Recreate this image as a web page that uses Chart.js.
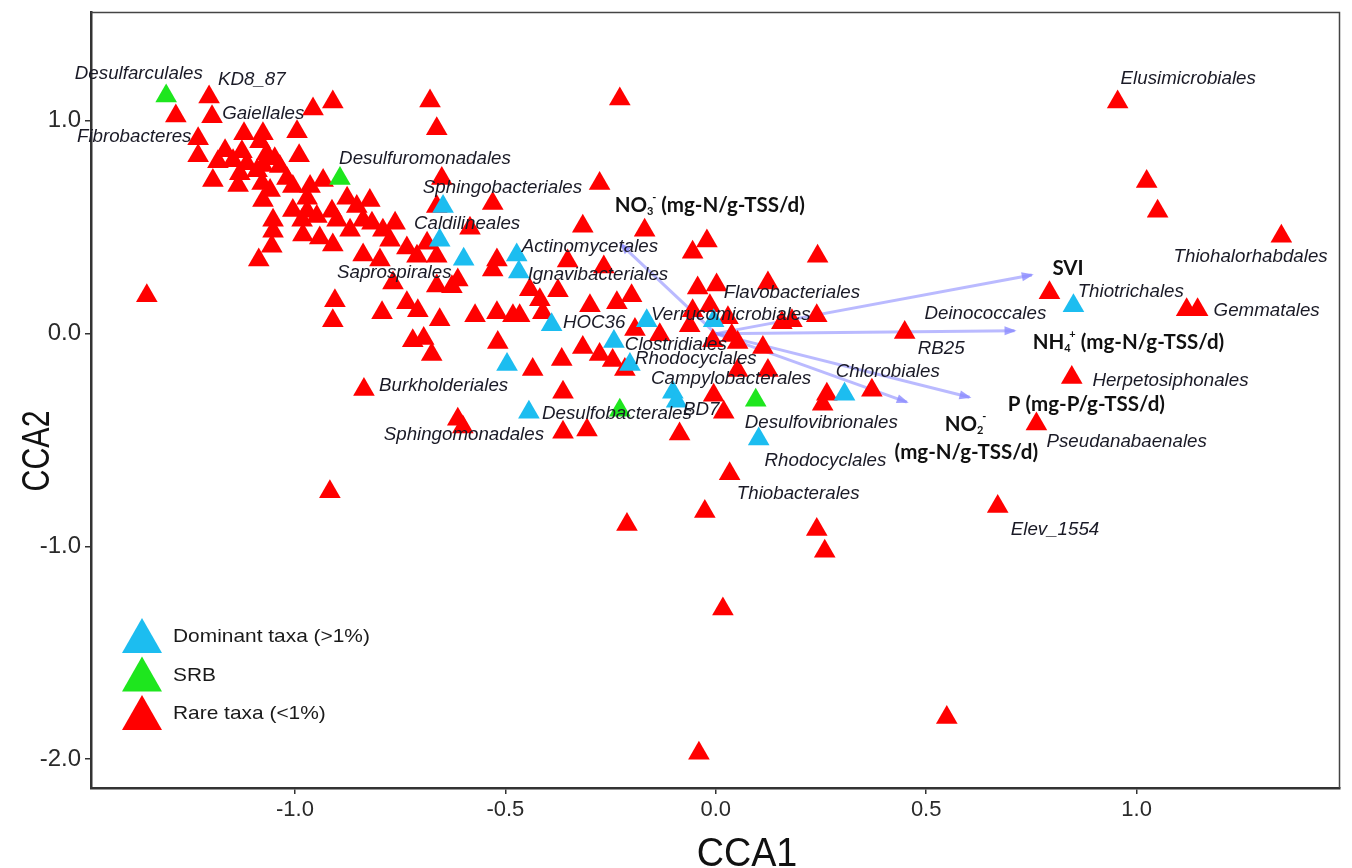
<!DOCTYPE html>
<html>
<head>
<meta charset="utf-8">
<script src="https://cdn.jsdelivr.net/npm/chart.js@4/dist/chart.umd.min.js"></script>
<style>
  html, body { margin: 0; padding: 0; background: #fff; }
</style>
</head>
<body>
<canvas id="ccaChart" width="1352" height="868"></canvas>
<script>
//------------------------------ values ------------------------------

const xTicks = [-1.0, -0.5, 0.0, 0.5, 1.0];
const yTicks = [1.0, 0.0, -1.0, -2.0];

// Dominant taxa (>1%)
const dominantTaxa = [
  [-0.648,0.598],[-0.656,0.439],[-0.599,0.350],[-0.473,0.369],[-0.468,0.290],[-0.390,0.042],
  [-0.496,-0.145],[-0.444,-0.369],[-0.242,-0.037],[-0.164,0.061],[-0.204,-0.145],[-0.102,-0.276],
  [-0.093,-0.318],[-0.005,0.061],[0.306,-0.285],[0.102,-0.495],[0.850,0.131]
];

// SRB
const srbTaxa = [
  [-1.306,1.117],[-0.893,0.729],[-0.228,-0.360],[0.095,-0.313]
];

// Rare taxa (<1%)
const rareTaxa = [
  [-1.283,1.023],[-1.204,1.112],[-1.197,1.019],[-1.230,0.916],[-1.230,0.836],[-1.121,0.939],
  [-1.076,0.939],[-0.957,1.056],[-0.910,1.089],[-0.995,0.949],[-0.990,0.836],[-0.679,1.093],
  [-0.663,0.963],[-1.166,0.860],[-1.183,0.808],[-1.147,0.813],[-1.126,0.855],[-1.114,0.799],
  [-1.131,0.752],[-1.195,0.720],[-1.135,0.696],[-1.083,0.902],[-1.067,0.846],[-1.076,0.790],
  [-1.048,0.822],[-1.036,0.785],[-1.090,0.766],[-1.078,0.706],[-1.059,0.673],[-1.076,0.626],
  [-1.019,0.729],[-1.005,0.692],[-1.005,0.579],[-1.052,0.533],[-1.052,0.481],[-1.055,0.411],
  [-1.086,0.346],[-0.983,0.533],[-0.971,0.575],[-0.964,0.692],[-0.933,0.720],[-0.971,0.636],
  [-0.948,0.551],[-0.981,0.463],[-0.941,0.449],[-0.910,0.416],[-0.912,0.575],[-0.900,0.533],
  [-0.876,0.636],[-0.853,0.598],[-0.822,0.626],[-0.838,0.533],[-0.817,0.519],[-0.869,0.486],
  [-0.838,0.369],[-0.798,0.346],[-0.791,0.486],[-0.762,0.519],[-0.774,0.439],[-0.734,0.402],
  [-0.710,0.364],[-0.686,0.425],[-0.663,0.364],[-0.651,0.729],[-0.663,0.598],[-0.584,0.495],
  [-0.767,0.238],[-0.734,0.145],[-0.708,0.107],[-0.663,0.224],[-0.656,0.065],[-0.613,0.252],
  [-0.627,0.220],[-0.905,0.154],[-0.910,0.061],[-0.793,0.098],[-0.720,-0.033],[-0.694,-0.023],
  [-0.675,-0.098],[-0.572,0.084],[-1.352,0.178],[-0.530,0.612],[-0.276,0.706],[-0.316,0.505],
  [-0.520,0.346],[-0.530,0.299],[-0.352,0.341],[-0.266,0.313],[-0.520,0.098],[-0.482,0.084],
  [-0.442,0.206],[-0.418,0.159],[-0.375,0.201],[-0.411,0.098],[-0.299,0.131],[-0.235,0.145],
  [-0.200,0.178],[-0.518,-0.042],[-0.435,-0.168],[-0.366,-0.121],[-0.316,-0.065],[-0.276,-0.098],
  [-0.466,0.084],[-0.245,-0.126],[-0.216,-0.168],[-0.169,0.486],[-0.055,0.383],[-0.021,0.435],
  [0.242,0.364],[-0.043,0.215],[0.002,0.229],[0.124,0.238],[-0.055,0.107],[-0.014,0.131],
  [0.029,0.075],[0.157,0.051],[0.181,0.061],[0.240,0.084],[0.449,0.005],[-0.192,0.019],
  [-0.133,-0.005],[-0.062,0.037],[-0.007,-0.033],[0.038,-0.009],[0.052,-0.042],[0.112,-0.065],
  [0.052,-0.173],[0.124,-0.173],[-0.005,-0.290],[0.019,-0.369],[-0.086,-0.472],[0.264,-0.285],
  [0.254,-0.332],[0.371,-0.266],[0.033,-0.659],[-0.306,-0.453],[-0.363,-0.463],[-0.836,-0.262],
  [-0.363,-0.276],[-0.613,-0.402],[-0.601,-0.439],[-0.917,-0.743],[-0.211,-0.897],[-0.026,-0.836],
  [0.240,-0.921],[0.259,-1.023],[0.670,-0.813],[0.017,-1.294],[0.549,-1.804],[-0.040,-1.972],
  [0.762,-0.425],[0.955,1.089],[1.024,0.715],[1.050,0.575],[1.344,0.458],[0.793,0.192],
  [1.119,0.112],[1.145,0.112],[0.846,-0.206],[-0.228,1.103]
];

// environmental vectors (arrow tips, from the origin)
const envNames = ['SVI', 'NH4+', 'P', 'NO2-', 'NO3-'];
const envX = [0.751, 0.710, 0.603, 0.454, -0.226];
const envY = [0.276, 0.014, -0.299, -0.322, 0.421];

// taxon names: text, x, y (left end, middle of text)
const taxaLabels = [
  ['Desulfarculales', -1.523, 1.220],
  ['KD8_87', -1.183, 1.192],
  ['Gaiellales', -1.173, 1.033],
  ['Fibrobacteres', -1.518, 0.925],
  ['Desulfuromonadales', -0.895, 0.818],
  ['Sphingobacteriales', -0.696, 0.682],
  ['Caldilineales', -0.717, 0.514],
  ['Actinomycetales', -0.461, 0.407],
  ['Ignavibacteriales', -0.447, 0.276],
  ['Saprospirales', -0.900, 0.285],
  ['Flavobacteriales', 0.019, 0.192],
  ['Verrucomicrobiales', -0.154, 0.089],
  ['HOC36', -0.363, 0.051],
  ['Clostridiales', -0.216, -0.056],
  ['Rhodocyclales', -0.192, -0.121],
  ['Campylobacterales', -0.154, -0.215],
  ['Chlorobiales', 0.285, -0.182],
  ['Burkholderiales', -0.800, -0.248],
  ['BD7', -0.078, -0.360],
  ['Desulfobacterales', -0.413, -0.379],
  ['Desulfovibrionales', 0.069, -0.421],
  ['Sphingomonadales', -0.789, -0.477],
  ['Rhodocyclales', 0.116, -0.598],
  ['Thiobacterales', 0.050, -0.752],
  ['Elev_1554', 0.701, -0.925],
  ['Elusimicrobiales', 0.962, 1.196],
  ['Thiohalorhabdales', 1.088, 0.360],
  ['Thiotrichales', 0.860, 0.196],
  ['Gemmatales', 1.183, 0.107],
  ['Deinococcales', 0.496, 0.093],
  ['RB25', 0.480, -0.075],
  ['Herpetosiphonales', 0.895, -0.224],
  ['Pseudanabaenales', 0.786, -0.509]
];

// environmental labels: pieces (n = normal, sub, sup), x, y
const envLabels = [
  [[['NO','n'],['3','sub'],['-','sup'],[' (mg-N/g-TSS/d)','n']], -0.240, 0.603],
  [[['SVI','n']], 0.800, 0.308],
  [[['NH','n'],['4','sub'],['+','sup'],[' (mg-N/g-TSS/d)','n']], 0.753, -0.042],
  [[['P (mg-P/g-TSS/d)','n']], 0.694, -0.332],
  [[['NO','n'],['2','sub'],['-','sup']], 0.544, -0.425],
  [[['(mg-N/g-TSS/d)','n']], 0.425, -0.556]
];

const legendItems = ['Dominant taxa (>1%)', 'SRB', 'Rare taxa (<1%)'];

//------------------------------ styles ------------------------------

const CYAN = '#1cbdf0';
const GREEN = '#1ee61e';
const RED = '#ff0000';
const ARROW = 'rgba(140,140,255,0.6)';

const toPts = arr => arr.map(p => ({x: p[0], y: p[1]}));

function pointSet(label, arr, color, order) {
  return {
    label: label,
    data: toPts(arr),
    backgroundColor: color,
    borderColor: color,
    pointStyle: 'triangle',
    pointRadius: 12.5,
    pointBorderWidth: 0,
    order: order
  };
}

const arrowSets = envNames.map((n, i) => ({
  label: n,
  data: [{x: 0, y: 0}, {x: envX[i], y: envY[i]}],
  showLine: true,
  borderColor: ARROW,
  borderWidth: 3,
  pointRadius: 0,
  isArrow: true,
  order: 10
}));

function drawTri(ctx, cx, top, w, h, color) {
  ctx.beginPath();
  ctx.moveTo(cx, top);
  ctx.lineTo(cx + w / 2, top + h);
  ctx.lineTo(cx - w / 2, top + h);
  ctx.closePath();
  ctx.fillStyle = color;
  ctx.fill();
}

function stretchedText(ctx, str, px, py, sx) {
  ctx.save();
  ctx.translate(px, py);
  ctx.scale(sx, 1);
  ctx.fillText(str, 0, 0);
  ctx.restore();
}

const extras = {
  id: 'extras',
  beforeDraw(chart) {
    const ctx = chart.ctx;
    ctx.save();
    ctx.fillStyle = '#fff';
    ctx.fillRect(0, 0, chart.width, chart.height);
    ctx.restore();
  },
  afterDatasetDraw(chart, args) {
    const ds = chart.data.datasets[args.index];
    if (!ds.isArrow) return;
    const pts = args.meta.data;
    const a = pts[0], b = pts[1];
    const ang = Math.atan2(b.y - a.y, b.x - a.x);
    const ctx = chart.ctx;
    ctx.save();
    ctx.translate(b.x, b.y);
    ctx.rotate(ang);
    ctx.beginPath();
    ctx.moveTo(2, 0);
    ctx.lineTo(-10, -4.5);
    ctx.lineTo(-10, 4.5);
    ctx.closePath();
    ctx.fillStyle = 'rgba(140,140,255,0.8)';
    ctx.fill();
    ctx.restore();
  },
  afterDraw(chart) {
    const ctx = chart.ctx;
    const xs = chart.scales.x, ys = chart.scales.y;
    const area = chart.chartArea;
    ctx.save();

    // panel frame top and right
    ctx.strokeStyle = '#444';
    ctx.lineWidth = 1.5;
    ctx.beginPath();
    ctx.moveTo(area.left, area.top);
    ctx.lineTo(area.right, area.top);
    ctx.lineTo(area.right, area.bottom);
    ctx.stroke();

    // taxa labels
    ctx.fillStyle = '#1a1a26';
    ctx.textBaseline = 'middle';
    ctx.textAlign = 'left';
    ctx.font = 'italic 17.5px "Liberation Sans"';
    taxaLabels.forEach(l => {
      stretchedText(ctx, l[0], xs.getPixelForValue(l[1]), ys.getPixelForValue(l[2]), 1.07);
    });

    // environmental labels
    ctx.fillStyle = '#111';
    envLabels.forEach(l => {
      let px = xs.getPixelForValue(l[1]);
      const py = ys.getPixelForValue(l[2]);
      l[0].forEach(p => {
        const t = p[0], k = p[1];
        const size = k === 'n' ? 20.5 : 11;
        ctx.font = 'bold ' + size + 'px Lato';
        const dy = k === 'sub' ? 6 : (k === 'sup' ? -8 : 0);
        ctx.fillText(t, px, py + dy);
        px += ctx.measureText(t).width + (k === 'sub' ? -ctx.measureText(t).width * 0.2 : 0);
      });
    });

    // legend
    const legColors = [CYAN, GREEN, RED];
    legendItems.forEach((t, i) => {
      const cy = 637 + i * 38.5;
      drawTri(ctx, 142, cy - 19, 40, 35, legColors[i]);
      ctx.font = '19px "Liberation Sans"';
      ctx.fillStyle = '#1a1a1a';
      stretchedText(ctx, t, 173, cy, 1.1);
    });

    // axis titles
    ctx.fillStyle = '#111';
    ctx.font = '41px "Liberation Sans"';
    ctx.textAlign = 'center';
    ctx.textBaseline = 'alphabetic';
    stretchedText(ctx, 'CCA1', 747, 866, 0.92);
    ctx.save();
    ctx.translate(49, 451);
    ctx.rotate(-Math.PI / 2);
    ctx.font = '38px "Liberation Sans"';
    stretchedText(ctx, 'CCA2', 0, 0, 0.8);
    ctx.restore();

    ctx.restore();
  }
};

const config = {
  type: 'scatter',
  data: {
    datasets: [
      pointSet('Dominant taxa (>1%)', dominantTaxa, CYAN, 1),
      pointSet('SRB', srbTaxa, GREEN, 2),
      pointSet('Rare taxa (<1%)', rareTaxa, RED, 3)
    ].concat(arrowSets)
  },
  options: {
    responsive: false,
    animation: false,
    devicePixelRatio: 1,
    layout: { padding: { left: 0, right: 12, top: 8, bottom: 0 } },
    plugins: {
      legend: { display: false },
      tooltip: { enabled: false }
    },
    scales: {
      x: {
        type: 'linear',
        min: -1.4846,
        max: 1.4822,
        afterBuildTicks: s => { s.ticks = xTicks.map(v => ({value: v})); },
        afterFit: s => { s.height = 80; },
        grid: { drawOnChartArea: false, drawTicks: true, tickLength: 6, color: '#333', lineWidth: 1.5 },
        border: { color: '#333', width: 2.5 },
        ticks: {
          autoSkip: false,
          maxRotation: 0,
          padding: 3,
          color: '#2a2a2a',
          font: { family: '"Liberation Sans"', size: 22 },
          callback: v => Number(v).toFixed(1)
        }
      },
      y: {
        type: 'linear',
        min: -2.1355,
        max: 1.5093,
        afterBuildTicks: s => { s.ticks = yTicks.map(v => ({value: v})); },
        afterFit: s => { s.width = 91; },
        grid: { drawOnChartArea: false, drawTicks: true, tickLength: 6, color: '#333', lineWidth: 1.5 },
        border: { color: '#333', width: 2.5 },
        ticks: {
          autoSkip: false,
          padding: 4,
          color: '#2a2a2a',
          font: { family: '"Liberation Sans"', size: 24, lineHeight: 0.2 },
          callback: v => Number(v).toFixed(1)
        }
      }
    }
  },
  plugins: [extras]
};

var ccaChart = new Chart(document.getElementById('ccaChart'), config);
</script>
</body>
</html>
